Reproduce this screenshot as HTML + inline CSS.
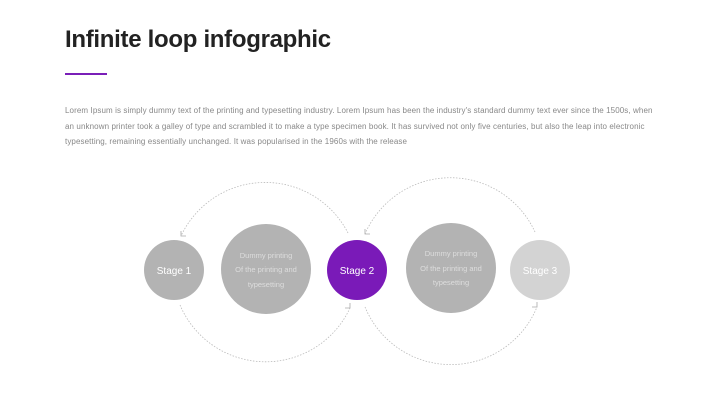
<!DOCTYPE html>
<html><head><style>
body{margin:0;width:720px;height:405px;background:#fff;font-family:"Liberation Sans",sans-serif;position:relative;overflow:hidden}
h1{position:absolute;left:65px;top:26px;margin:0;font-size:24px;font-weight:bold;color:#222;letter-spacing:-0.3px}
.bar{position:absolute;left:65px;top:73px;width:42px;height:1.5px;background:#7a1fb8}
p{position:absolute;left:65px;top:103px;margin:0;white-space:nowrap;font-size:8px;line-height:15.5px;color:#888;letter-spacing:0.1px}
</style></head><body>
<h1>Infinite loop infographic</h1>
<div class="bar"></div>
<p>Lorem Ipsum is simply dummy text of the printing and typesetting industry. Lorem Ipsum has been the industry's standard dummy text ever since the 1500s, when<br>an unknown printer took a galley of type and scrambled it to make a type specimen book. It has survived not only five centuries, but also the leap into electronic<br>typesetting, remaining essentially unchanged. It was popularised in the 1960s with the release</p>
<svg width="720" height="405" style="position:absolute;left:0;top:0" font-family="Liberation Sans, sans-serif">
<g fill="none" stroke="#bbb" stroke-width="0.8" stroke-dasharray="1.5 1.5">
<path d="M348 233 A93 93 0 0 0 181 236"/>
<path d="M180 305 A93 93 0 0 0 350 308"/>
<path d="M535 232 A93 93 0 0 0 365 234"/>
<path d="M365 307 A93 93 0 0 0 537 307"/>
</g>
<g fill="none" stroke="#aaa" stroke-width="0.8">
<path d="M181 231 L181 236 L186 236"/>
<path d="M345 308 L350 308 L350 303"/>
<path d="M365 229 L365 234 L370 234"/>
<path d="M532 307 L537 307 L537 302"/>
</g>
<circle cx="174" cy="270" r="30" fill="#b3b3b3"/>
<circle cx="266" cy="269" r="45" fill="#b3b3b3"/>
<circle cx="357" cy="270" r="30" fill="#7a1ab8"/>
<circle cx="451" cy="268" r="45" fill="#b3b3b3"/>
<circle cx="540" cy="270" r="30" fill="#d3d3d3"/>
<g fill="#fff" text-anchor="middle" font-size="10">
<text x="174" y="274">Stage 1</text>
<text x="357" y="274">Stage 2</text>
<text x="540" y="274">Stage 3</text>
</g>
<g fill="#ddd" text-anchor="middle" font-size="7.5">
<text x="266" y="258">Dummy printing</text>
<text x="266" y="272">Of the printing and</text>
<text x="266" y="287">typesetting</text>
<text x="451" y="256">Dummy printing</text>
<text x="451" y="271">Of the printing and</text>
<text x="451" y="285">typesetting</text>
</g>
</svg>
</body></html>
